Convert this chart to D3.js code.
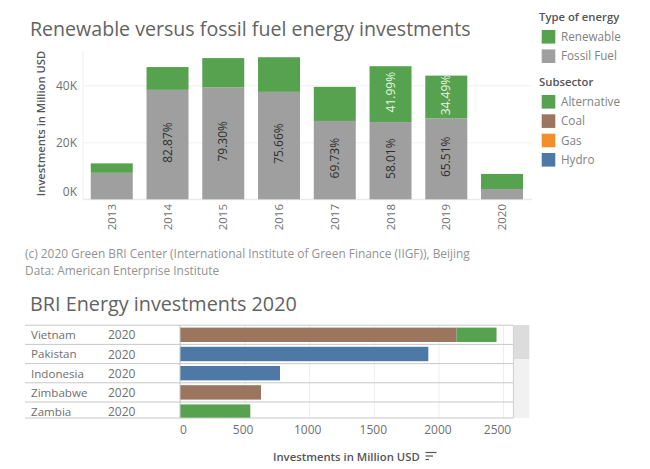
<!DOCTYPE html>
<html><head><meta charset="utf-8">
<script src="https://d3js.org/d3.v7.min.js"></script>
<style>
html,body{margin:0;padding:0;background:#fff;overflow:hidden}
text{font-family:"Open Sans",sans-serif}
</style></head><body>
<svg id="c" width="650" height="469"></svg>
<script>
const years=["2013","2014","2015","2016","2017","2018","2019","2020"];
const fossil=[9300,38400,39300,37700,27500,27100,28400,3600];
const renewable=[3300,8000,10250,12150,11950,19600,15000,5300];
const fossilLabels=[null,"82.87%","79.30%","75.66%","69.73%","58.01%","65.51%",null];
const renewableLabels=[null,null,null,null,null,"41.99%","34.49%",null];
const yTicks=[0,20000,40000];
const countries=["Vietnam","Pakistan","Indonesia","Zimbabwe","Zambia"];
const countryYear=["2020","2020","2020","2020","2020"];
const coal=[2141,0,0,627,0];
const hydro=[0,1922,774,0,0];
const alternative=[309,0,0,0,544];
const xTicks=[0,500,1000,1500,2000,2500];
const typeLegend=["Renewable","Fossil Fuel"];
const subLegend=["Alternative","Coal","Gas","Hydro"];
const GREEN="#57a24f",GRAY="#9f9f9f",BROWN="#9c755f",ORANGE="#f28e2b",BLUE="#4e79a7";
const typeColors=[GREEN,GRAY];
const subColors=[GREEN,BROWN,ORANGE,BLUE];

const svg=d3.select("#c");
const T="#707070";
function txt(x,y,s,size,fill,weight){
  return svg.append("text").attr("x",x).attr("y",y).attr("dy","0.35em").text(s)
    .attr("font-size",size).attr("fill",fill).attr("font-weight",weight||400);
}
txt(30,29,"Renewable versus fossil fuel energy investments",19.6,"#636363");
txt(30,304,"BRI Energy investments 2020",19.8,"#636363");
txt(25,254,"(c) 2020 Green BRI Center (International Institute of Green Finance (IIGF)), Beijing",11.9,"#939393");
txt(25,271,"Data: American Enterprise Institute",11.9,"#939393");

/* top chart */
const x=d3.scaleBand().domain(years).range([83.8,530]).paddingInner(0.247).paddingOuter(0.125);
const y=d3.scaleLinear().domain([0,40000]).range([199.3,85.3]);
const gy=svg.append("g").attr("transform","translate(83,0)")
  .call(d3.axisLeft(y).tickValues(yTicks).tickSize(0).tickFormat(d=>d/1000+"K"));
gy.select(".domain").attr("stroke","#f0f0f0").attr("d","M0,50V199.3");
gy.selectAll("text").attr("font-size",12).attr("fill",T).attr("x",-6)
  .attr("font-family",'"Open Sans",sans-serif')
  .attr("dy",d=>d===0?"-0.35em":"0.32em");
gy.selectAll(".tick").append("line").attr("x1",0).attr("x2",449).attr("stroke","#f1f1f1");
svg.append("line").attr("x1",83).attr("x2",532).attr("y1",y(0)).attr("y2",y(0)).attr("stroke","#e6e6e6");
svg.append("text").attr("transform","translate(41,123.5) rotate(-90)").attr("text-anchor","middle").attr("dy","0.35em")
  .text("Investments in Million USD").attr("font-size",11.2).attr("font-weight",600).attr("fill","#555");

svg.append("g").selectAll("rect").data(years).join("rect")
  .attr("x",d=>x(d)).attr("width",x.bandwidth())
  .attr("y",(d,i)=>y(fossil[i])).attr("height",(d,i)=>y(0)-y(fossil[i])).attr("fill",GRAY);
svg.append("g").selectAll("rect").data(years).join("rect")
  .attr("x",d=>x(d)).attr("width",x.bandwidth())
  .attr("y",(d,i)=>y(fossil[i]+renewable[i])).attr("height",(d,i)=>y(fossil[i])-y(fossil[i]+renewable[i])).attr("fill",GREEN);

function vlabel(cx,cy,s,fill){
  svg.append("text").attr("transform",`translate(${cx},${cy}) rotate(-90)`)
    .attr("text-anchor","middle").attr("dy","0.35em").text(s)
    .attr("font-size",12).attr("fill",fill);
}
years.forEach((d,i)=>{
  const cx=x(d)+x.bandwidth()/2;
  if(fossilLabels[i]) vlabel(cx,(y(0)+y(fossil[i]))/2-2,fossilLabels[i],"#2e2e2e");
  if(renewableLabels[i]) vlabel(cx,(y(fossil[i])+y(fossil[i]+renewable[i]))/2-2,renewableLabels[i],"#e8f5e4");
  svg.append("text").attr("transform",`translate(${cx},204) rotate(-90)`)
    .attr("text-anchor","end").attr("dy","0.35em").text(d)
    .attr("font-size",11.5).attr("fill",T);
});

/* legends */
txt(539,17,"Type of energy",11.3,"#555",600);
txt(539,82,"Subsector",11.3,"#555",600);
const lx=541.7,ls=13.6;
const legY1=d3.scaleLinear().domain([0,1]).range([30,49.4]);
const legY2=d3.scaleLinear().domain([0,3]).range([95,153]);
typeLegend.forEach((s,i)=>{
  svg.append("rect").attr("x",lx).attr("y",legY1(i)).attr("width",ls).attr("height",ls).attr("fill",typeColors[i]);
  txt(561,legY1(i)+ls/2,s,11.7,"#828282");
});
subLegend.forEach((s,i)=>{
  svg.append("rect").attr("x",lx).attr("y",legY2(i)).attr("width",ls).attr("height",ls).attr("fill",subColors[i]);
  txt(561,legY2(i)+ls/2,s,11.7,"#828282");
});

/* bottom chart */
const bx=d3.scaleLinear().domain([0,2500]).range([180,503]);
const by=d3.scaleBand().domain(countries).range([325.2,421.2]).paddingInner(0.25).paddingOuter(0.125);
const rowTop=i=>325.2+i*19.2;
svg.append("defs").append("clipPath").attr("id","rows").append("rect")
  .attr("x",180).attr("y",325).attr("width",333.4).attr("height",93);
const ga=svg.append("g").attr("transform","translate(0,418)")
  .call(d3.axisBottom(bx).tickValues(xTicks).tickSize(0).tickFormat(d3.format("d")));
ga.select(".domain").remove();
const tickShift={0:3,500:-2,1000:-2,1500:-1,2000:-1,2500:-6};
ga.selectAll("text").attr("font-size",12).attr("fill",T).attr("y",16).attr("dy","0")
  .attr("font-family",'"Open Sans",sans-serif').attr("dx",d=>tickShift[d]);
ga.selectAll(".tick").append("line").attr("y1",0).attr("y2",-93).attr("stroke","#eeeeee");

const rows=svg.append("g").attr("clip-path","url(#rows)");
countries.forEach((c,i)=>{
  const segs=[[coal[i],BROWN],[hydro[i],BLUE],[alternative[i],GREEN]];
  let acc=0;
  segs.forEach(([v,col])=>{
    if(!v) return;
    rows.append("rect").attr("x",bx(acc)).attr("y",by(c)).attr("width",bx(acc+v)-bx(acc)).attr("height",by.bandwidth()).attr("fill",col);
    acc+=v;
  });
  txt(31,rowTop(i)+10,c,11.6,T);
  txt(108,rowTop(i)+10,countryYear[i],12,T);
});
d3.range(6).forEach(i=>{
  const yy=i===5?418:rowTop(i);
  svg.append("line").attr("x1",25).attr("x2",513.4).attr("y1",yy).attr("y2",yy).attr("stroke","#c8c8c8");
});
svg.append("line").attr("x1",180).attr("x2",180).attr("y1",325).attr("y2",418).attr("stroke","#c8c8c8");
svg.append("line").attr("x1",513.4).attr("x2",513.4).attr("y1",325).attr("y2",418).attr("stroke","#c8c8c8");
svg.append("rect").attr("x",513.8).attr("y",325).attr("width",15.5).attr("height",93).attr("fill","#f1f1f1");
svg.append("rect").attr("x",513.8).attr("y",325).attr("width",15.5).attr("height",34).attr("fill","#dcdcdc");
txt(273,457,"Investments in Million USD",11.3,"#555",600);
[[425.5,436.5,452.5],[425.5,433,456],[425.5,429,459.5]].forEach(a=>{
  svg.append("line").attr("x1",a[0]).attr("x2",a[1]).attr("y1",a[2]).attr("y2",a[2]).attr("stroke","#555").attr("stroke-width",1.2);
});
</script>
</body></html>
